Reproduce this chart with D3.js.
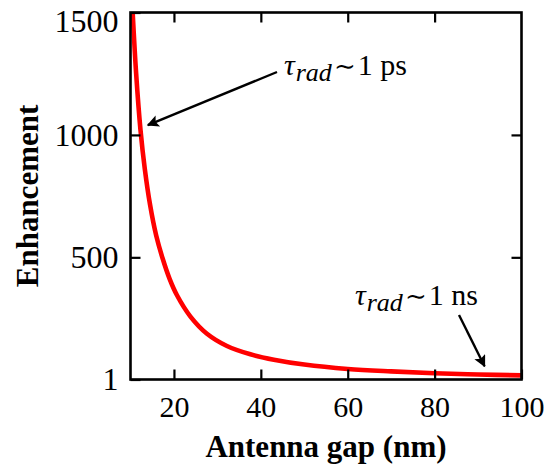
<!DOCTYPE html>
<html>
<head>
<meta charset="utf-8">
<script src="https://cdn.jsdelivr.net/npm/d3@7/dist/d3.min.js"></script>
<style>
  html, body { margin: 0; padding: 0; background: #fff; }
  svg { display: block; }
</style>
</head>
<body>
<svg id="chart" width="559" height="469"></svg>
<script>
// Radiative enhancement versus antenna gap
const gapNm = [10.5, 11.3, 12.3, 13.3, 14.5, 15.9, 17.4, 19, 20.7, 23.8, 27.6, 32.2, 37.6, 43, 50, 60, 70, 80, 90, 100];
const enhancement = [1500, 1250, 1020, 860, 715, 590, 495, 412, 345, 258, 188, 138, 104, 82, 62, 44, 34, 26.5, 21.5, 18];

const xTicks = [20, 40, 60, 80, 100];
const yTicks = [1, 500, 1000, 1500];

// Annotations: radiative lifetime labels and the curve point each arrow points to
const notes = [
  { time: "1 ps", gap: 14.0, value: 1040, labelX: 284, labelY: 75, tailX: 277, tailY: 72 },
  { time: "1 ns", gap: 91.5, value: 55, labelX: 355, labelY: 305, tailX: 459, tailY: 315 }
];

const svg = d3.select("#chart");
const plotLeft = 130.5, plotRight = 521.5, plotTop = 12.5, plotBottom = 379.5;

const x = d3.scaleLinear().domain([10, 100]).range([plotLeft, plotRight]);
const y = d3.scaleLinear().domain([1, 1500]).range([plotBottom, plotTop]);

const serif = "'Liberation Serif', 'Times New Roman', serif";

const defs = svg.append("defs");
defs.append("clipPath").attr("id", "plotClip")
  .append("rect").attr("x", plotLeft).attr("y", plotTop)
  .attr("width", plotRight - plotLeft).attr("height", plotBottom - plotTop);

// Curve
const pts = gapNm.map((g, i) => [g, enhancement[i]]);
svg.append("path")
  .datum(pts)
  .attr("clip-path", "url(#plotClip)")
  .attr("fill", "none")
  .attr("stroke", "#ff0000")
  .attr("stroke-width", 4.6)
  .attr("d", d3.line().x(d => x(d[0])).y(d => y(d[1])).curve(d3.curveCatmullRom.alpha(0.5)));

function styleAxis(size) {
  return g => {
    g.select(".domain").remove();
    g.selectAll(".tick line").attr("stroke", "#000").attr("stroke-width", 2.2);
    g.selectAll(".tick text")
      .attr("fill", "#000")
      .style("font-family", serif)
      .style("font-size", size + "px");
  };
}

// Bottom axis
svg.append("g")
  .attr("transform", `translate(0,${plotBottom})`)
  .call(d3.axisBottom(x).tickValues(xTicks).tickFormat(d3.format("d"))
    .tickSizeInner(-10).tickSizeOuter(0).tickPadding(16))
  .call(styleAxis(30));

// Top axis (ticks only)
svg.append("g")
  .attr("transform", `translate(0,${plotTop})`)
  .call(d3.axisTop(x).tickValues(xTicks.slice(0, 4)).tickSizeInner(-10).tickSizeOuter(0).tickFormat(""))
  .call(styleAxis(30));

// Left axis
svg.append("g")
  .attr("transform", `translate(${plotLeft},0)`)
  .call(d3.axisLeft(y).tickValues(yTicks).tickFormat(d3.format("d"))
    .tickSizeInner(-10).tickSizeOuter(0).tickPadding(12))
  .call(styleAxis(32))
  .call(g => g.selectAll(".tick text").filter(d => d === 1500).attr("dy", "0.6em"));

// Right axis (ticks only)
svg.append("g")
  .attr("transform", `translate(${plotRight},0)`)
  .call(d3.axisRight(y).tickValues(yTicks.slice(1, 3)).tickSizeInner(-10).tickSizeOuter(0).tickFormat(""))
  .call(styleAxis(30));

// Frame
svg.append("rect")
  .attr("x", plotLeft).attr("y", plotTop)
  .attr("width", plotRight - plotLeft).attr("height", plotBottom - plotTop)
  .attr("fill", "none").attr("stroke", "#000").attr("stroke-width", 2.6);

// Axis titles
svg.append("text")
  .attr("x", (plotLeft + plotRight) / 2)
  .attr("y", 457)
  .attr("text-anchor", "middle")
  .style("font-family", serif)
  .style("font-weight", "bold")
  .style("font-size", "31px")
  .text("Antenna gap (nm)");

svg.append("text")
  .attr("transform", `translate(38,${(plotTop + plotBottom) / 2}) rotate(-90)`)
  .attr("text-anchor", "middle")
  .style("font-family", serif)
  .style("font-weight", "bold")
  .style("font-size", "31px")
  .text("Enhancement");

// Arrow marker
defs.append("marker")
  .attr("id", "arrowHead")
  .attr("viewBox", "0 0 10 10")
  .attr("refX", 9).attr("refY", 5)
  .attr("markerWidth", 6).attr("markerHeight", 5)
  .attr("markerUnits", "strokeWidth")
  .attr("orient", "auto")
  .append("path")
  .attr("d", "M0,0 L10,5 L0,10 L2,5 Z")
  .attr("fill", "#000");

notes.forEach(n => {
  const tip = [x(n.gap), y(n.value)];
  svg.append("line")
    .attr("x1", n.tailX).attr("y1", n.tailY)
    .attr("x2", tip[0]).attr("y2", tip[1])
    .attr("stroke", "#000").attr("stroke-width", 2.4)
    .attr("marker-end", "url(#arrowHead)");

  const t = svg.append("text")
    .attr("x", n.labelX).attr("y", n.labelY)
    .style("font-family", serif)
    .style("font-size", "30px")
    .attr("fill", "#000");
  t.append("tspan").style("font-style", "italic").text("τ");
  t.append("tspan").style("font-style", "italic").style("font-size", "26px")
    .attr("dx", 1).attr("dy", 6).text("rad");
  t.append("tspan").attr("dy", -6).attr("dx", 2)
    .style("font-family", "'DejaVu Serif', serif").style("font-size", "26px").text("∼");
  t.append("tspan").attr("dx", 2).text(n.time);
});
</script>
</body>
</html>
